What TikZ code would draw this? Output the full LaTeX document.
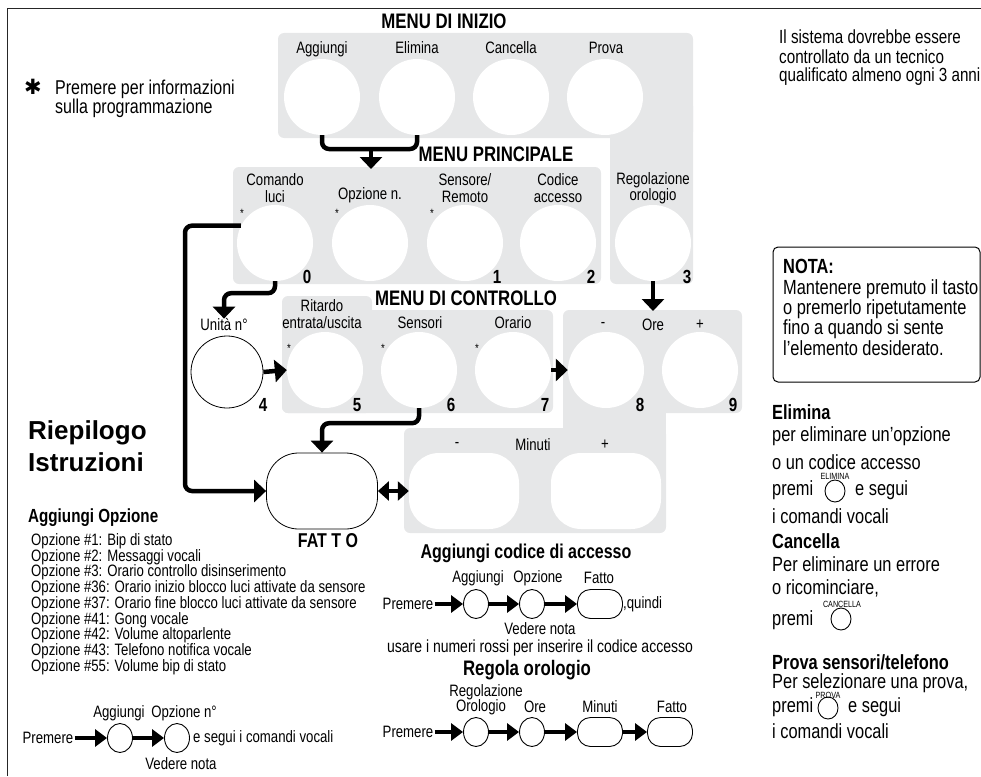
\documentclass[tikz,border=0pt]{standalone}
\usepackage{fontspec}
\setmainfont{Liberation Sans}[FakeStretch=0.8]
\newfontfamily\widefont{Liberation Sans}
\newfontfamily\symfont{DejaVu Sans}
\usetikzlibrary{arrows.meta,shapes.geometric}
\definecolor{panelgray}{RGB}{230,231,232}
\newcommand{\fsz}[1]{\fontsize{#1}{#1}\selectfont}

\begin{document}
\begin{tikzpicture}[x=1pt, y=-1pt,
        panel/.style={fill=panelgray, rounded corners=6pt},
        key/.style={circle, fill=white, inner sep=0pt, minimum size=76pt},
        oval/.style={rectangle, rounded corners=30pt, fill=white, inner sep=0pt, minimum width=110pt, minimum height=76pt},
        unitakey/.style={circle, draw, line width=0.8pt, fill=white, inner sep=0pt, minimum size=72pt},
        fattokey/.style={rectangle, rounded corners=32pt, draw, line width=0.8pt, fill=white, inner sep=0pt, minimum width=111pt, minimum height=76pt},
        seqkey/.style={ellipse, draw, line width=0.9pt, inner sep=0pt, minimum width=25pt, minimum height=29pt},
        seqoval/.style={rectangle, rounded corners=13pt, draw, line width=0.9pt, inner sep=0pt, minimum width=45pt, minimum height=29pt},
        minikey/.style={ellipse, draw, line width=0.9pt, inner sep=0pt, minimum width=20pt, minimum height=22pt},
        menutitle/.style={font=\bfseries\fsz{21}, inner sep=0pt},
        lbl/.style={font=\fsz{16.5}, inner sep=0pt, align=center},
        num/.style={font=\bfseries\fsz{19}, inner sep=0pt},
        star/.style={font=\fsz{12}, inner sep=0pt},
        body/.style={font=\fsz{20.5}, inner sep=0pt, anchor=west},
        head/.style={font=\bfseries\fsz{20.5}, inner sep=0pt, anchor=west},
        small/.style={font=\fsz{16.5}, inner sep=1pt},
        tiny/.style={font=\fsz{9}, inner sep=0pt},
        optline/.style={font=\fsz{16.5}, inner sep=0pt, anchor=west},
        bigarrow/.style={line width=4.5pt, -{Triangle[width=22pt,length=12pt]}, rounded corners=7pt},
        dblarrow/.style={line width=4pt, {Triangle[width=19pt,length=11pt]}-{Triangle[width=19pt,length=11pt]}},
        seqarrow/.style={line width=3.5pt, -{Triangle[width=17pt,length=12pt]}}]
        \useasboundingbox (0,0) rectangle (981,776);
        \draw[black!85, line width=1pt] (7,776) -- (7,9) -- (981,9);
        \fill[panel] (278,33) rectangle (693,138);
        \fill[panel] (610,100) rectangle (693,284);
        \fill[panel] (233,167) rectangle (601,284);
        \fill[panel] (282,296) rectangle (372,413);
        \fill[panel] (282,310) rectangle (553,413);
        \fill[panel] (563,310) rectangle (742,413);
        \fill[panel] (404,428) rectangle (666,533);
        \fill[panelgray] (563,390) rectangle (666,450);
        \node[menutitle] (tinizio) at (444,21) {MENU DI INIZIO};
        \node[menutitle] (tprinc) at (496,154) {MENU PRINCIPALE};
        \node[menutitle] (tcontr) at (466,298) {MENU DI CONTROLLO};
        \node[lbl] (lagg) at (322,49) {Aggiungi};
        \node[lbl] (lelim) at (417,48) {Elimina};
        \node[lbl] (lcanc) at (511,48) {Cancella};
        \node[lbl] (lprova) at (606,48) {Prova};
        \node[key] (agg) at (322,97) {};
        \node[key] (elim) at (417,97) {};
        \node[key] (canc) at (511,97) {};
        \node[key] (prova) at (605,97) {};
        \node[lbl] (lluci) at (275,188) {Comando\\luci};
        \node[lbl] (lopz) at (370,195) {Opzione n.};
        \node[lbl] (lsens) at (465,188) {Sensore/\\Remoto};
        \node[lbl] (lcod) at (558,188) {Codice\\accesso};
        \node[lbl] (lregol) at (653,188) {Regolazione\\orologio};
        \node[key] (luci) at (275,243) {};
        \node[key] (opz) at (370,243) {};
        \node[key] (sens) at (465,243) {};
        \node[key] (cod) at (558,243) {};
        \node[key] (regol) at (653,243) {};
        \node[star] (s1) at (242,213) {*};
        \node[star] (s2) at (337,213) {*};
        \node[star] (s3) at (432,213) {*};
        \node[num] (n0) at (307,277) {0};
        \node[num] (n1) at (497,277) {1};
        \node[num] (n2) at (591,277) {2};
        \node[num] (n3) at (687,277) {3};
        \node[lbl] (lrit) at (322,306) {Ritardo};
        \node[lbl] (lentr) at (322,323) {entrata/uscita};
        \node[lbl] (lsensori) at (420,323) {Sensori};
        \node[lbl] (lorario) at (513,323) {Orario};
        \node[lbl] (unitalbl) at (224,325) {Unità n°};
        \node[lbl] (lmeno) at (603,325) {-};
        \node[lbl] (lore) at (653,325) {Ore};
        \node[lbl] (lpiu) at (700,325) {+};
        \node[unitakey] (unita) at (227,372) {};
        \node[key] (rit) at (325,370) {};
        \node[key] (sensori) at (419,370) {};
        \node[key] (orario) at (513,370) {};
        \node[key] (oremeno) at (606,370) {};
        \node[key] (orepiu) at (700,370) {};
        \node[star] (s4) at (289,348) {*};
        \node[star] (s5) at (383,348) {*};
        \node[star] (s6) at (477,348) {*};
        \node[num] (n4) at (263,405) {4};
        \node[num] (n5) at (357,405) {5};
        \node[num] (n6) at (451,405) {6};
        \node[num] (n7) at (545,405) {7};
        \node[num] (n8) at (640,405) {8};
        \node[num] (n9) at (733,405) {9};
        \node[lbl] (lminmeno) at (457,445) {-};
        \node[lbl] (lminuti) at (533,445) {Minuti};
        \node[lbl] (lminpiu) at (605,445) {+};
        \node[oval] (minmeno) at (464,491) {};
        \node[oval] (minpiu) at (606,491) {};
        \node[fattokey] (fatto) at (322,491) {};
        \node[font=\bfseries\fsz{20}, inner sep=0pt] (fattolbl) at (328,541) {FAT T O};
        \coordinate (brk) at (371,149);
        \coordinate (princtop) at (371,169);
        \coordinate (rail) at (185,491);
        \coordinate (oretop) at (653,311);
        \draw[line width=4.5pt, rounded corners=7pt] (agg.south) |- (brk) -| (elim.south);
        \draw[bigarrow] (brk) -- (princtop);
        \draw[bigarrow] (luci.153) -| (rail) -- (fatto.west);
        \draw[bigarrow] (luci.south) -- ++(0,12) -| (unitalbl.north);
        \draw[bigarrow] (regol.south) -- (oretop);
        \draw[bigarrow] (unita.east) -- (rit.west);
        \draw[bigarrow] (orario.east) -- (oremeno.west);
        \draw[bigarrow] (sensori.south) -- ++(0,15) -| (fatto.north);
        \draw[dblarrow] (fatto.east) -- (minmeno.west);
        \node[font=\symfont\fsz{21}, inner sep=0pt] (bigstar) at (33,87) {✱};
        \node[font=\fsz{20}, inner sep=0pt, anchor=west] (info1) at (55,89) {Premere per informazioni};
        \node[font=\fsz{20}, inner sep=0pt, anchor=west] (info2) at (55,108) {sulla programmazione};
        \node[font=\fsz{19}, inner sep=0pt, anchor=west] (nota1) at (779,37) {Il sistema dovrebbe essere};
        \node[font=\fsz{19}, inner sep=0pt, anchor=west] (nota2) at (779,57) {controllato da un tecnico};
        \node[font=\fsz{19}, inner sep=0pt, anchor=west] (nota3) at (779,77) {qualificato almeno ogni 3 anni};
        \draw[line width=1pt, rounded corners=5pt] (773,247) rectangle (980,382);
        \node[head] (notah) at (783,266) {NOTA:};
        \node[body] (notb1) at (783,289) {Mantenere premuto il tasto};
        \node[body] (notb2) at (783,309) {o premerlo ripetutamente};
        \node[body] (notb3) at (783,329) {fino a quando si sente};
        \node[body] (notb4) at (783,348) {l'elemento desiderato.};
        \node[head] (elimh) at (772,412) {Elimina};
        \node[body] (elim1) at (772,436) {per eliminare un'opzione};
        \node[body] (elim2) at (772,462) {o un codice accesso};
        \node[body] (elim3) at (772,490) {premi};
        \node[minikey] (elimkey) at (835,491) {};
        \node[tiny] (elimtag) at (835,476) {ELIMINA};
        \node[body] (elim4) at (855,490) {e segui};
        \node[body] (elim5) at (772,516) {i comandi vocali};
        \node[head] (canch) at (772,541) {Cancella};
        \node[body] (canc1) at (772,564) {Per eliminare un errore};
        \node[body] (canc2) at (772,588) {o ricominciare,};
        \node[body] (canc3) at (772,620) {premi};
        \node[minikey] (canckey) at (841,619) {};
        \node[tiny] (canctag) at (842,604) {CANCELLA};
        \node[head] (provah) at (772,662) {Prova sensori/telefono};
        \node[body] (prova1) at (772,683) {Per selezionare una prova,};
        \node[body] (prova2) at (772,707) {premi};
        \node[minikey] (provakey) at (828,708) {};
        \node[tiny] (provatag) at (828,695) {PROVA};
        \node[body] (prova3) at (848,707) {e segui};
        \node[body] (prova4) at (772,731) {i comandi vocali};
        \node[font=\widefont\bfseries\fsz{26}, inner sep=0pt, anchor=west] (riep1) at (28,433) {Riepilogo};
        \node[font=\widefont\bfseries\fsz{26}, inner sep=0pt, anchor=west] (riep2) at (28,462) {Istruzioni};
        \node[font=\bfseries\fsz{19}, inner sep=0pt, anchor=west] (aggopz) at (28,518) {Aggiungi Opzione};
        \node[optline] (opt1) at (31,541) {Opzione \#1: Bip di stato};
        \node[optline] (opt2) at (31,557) {Opzione \#2: Messaggi vocali};
        \node[optline] (opt3) at (31,572) {Opzione \#3: Orario controllo disinserimento};
        \node[optline] (opt4) at (31,588) {Opzione \#36: Orario inizio blocco luci attivate da sensore};
        \node[optline] (opt5) at (31,604) {Opzione \#37: Orario fine blocco luci attivate da sensore};
        \node[optline] (opt6) at (31,620) {Opzione \#41: Gong vocale};
        \node[optline] (opt7) at (31,635) {Opzione \#42: Volume altoparlente};
        \node[optline] (opt8) at (31,651) {Opzione \#43: Telefono notifica vocale};
        \node[optline] (opt9) at (31,667) {Opzione \#55: Volume bip di stato};
        \node[small] (cpre) at (48,738) {Premere};
        \node[seqkey] (ck1) at (120,738) {};
        \node[seqkey] (ck2) at (177,738) {};
        \node[small, anchor=west] (cfine) at (192,738) {e segui i comandi vocali};
        \node[small] (clagg) at (119,713) {Aggiungi};
        \node[small] (clopz) at (184,713) {Opzione n°};
        \node[small] (cved) at (181,764) {Vedere nota};
        \draw[seqarrow] (cpre.east) -- (ck1.west);
        \draw[seqarrow] (ck1.east) -- (ck2.west);
        \node[font=\bfseries\fsz{20}, inner sep=0pt] (acodh) at (526,553) {Aggiungi codice di accesso};
        \node[small] (apre) at (408,604) {Premere};
        \node[seqkey] (ak1) at (476,604) {};
        \node[seqkey] (ak2) at (532,604) {};
        \node[seqoval] (ak3) at (600,604) {};
        \node[small, anchor=west] (aquindi) at (622,604) {,quindi};
        \node[small] (alagg) at (478,578) {Aggiungi};
        \node[small] (alopz) at (538,578) {Opzione};
        \node[small] (alfatto) at (599,578) {Fatto};
        \node[small] (aved) at (540,629) {Vedere nota};
        \node[font=\fsz{17.5}, inner sep=0pt] (ausare) at (540,648) {usare i numeri rossi per inserire il codice accesso};
        \draw[seqarrow] (apre.east) -- (ak1.west);
        \draw[seqarrow] (ak1.east) -- (ak2.west);
        \draw[seqarrow] (ak2.east) -- (ak3.west);
        \node[font=\bfseries\fsz{21}, inner sep=0pt] (rorh) at (527,670) {Regola orologio};
        \node[small] (rpre) at (408,732) {Premere};
        \node[seqkey] (rk1) at (476,732) {};
        \node[seqkey] (rk2) at (532,732) {};
        \node[seqoval] (rk3) at (600,732) {};
        \node[seqoval] (rk4) at (670,732) {};
        \node[small] (rlreg) at (486,692) {Regolazione};
        \node[small] (rlor) at (481,707) {Orologio};
        \node[small] (rlore) at (535,707) {Ore};
        \node[small] (rlmin) at (600,707) {Minuti};
        \node[small] (rlfatto) at (672,707) {Fatto};
        \draw[seqarrow] (rpre.east) -- (rk1.west);
        \draw[seqarrow] (rk1.east) -- (rk2.west);
        \draw[seqarrow] (rk2.east) -- (rk3.west);
        \draw[seqarrow] (rk3.east) -- (rk4.west);
    \end{tikzpicture}
\end{document}
